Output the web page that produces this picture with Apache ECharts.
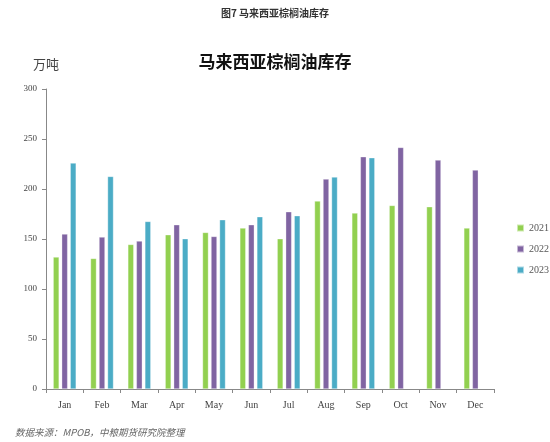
<!DOCTYPE html>
<html>
<head>
<meta charset="utf-8"/>
<script src="https://cdn.jsdelivr.net/npm/echarts@6/dist/echarts.min.js"></script>
<style>
html,body{margin:0;padding:0;background:#fff;}
#main{width:550px;height:442px;}
</style>
</head>
<body>
<div id="main"></div>
<script>
// 月份与各年库存（万吨）
var months = ['Jan','Feb','Mar','Apr','May','Jun','Jul','Aug','Sep','Oct','Nov','Dec'];
var stock2021 = [132, 130.6, 144.6, 154.3, 156.6, 161, 150.3, 188, 176, 183.6, 182.3, 161];
var stock2022 = [155, 152, 148, 164.3, 152.6, 164.3, 177.3, 210, 232.3, 241.6, 229, 219];
var stock2023 = [226, 212.6, 167.6, 150.3, 169.3, 172.3, 173.3, 212, 231.3];
var yearNames = ['2021', '2022', '2023'];

var serif = '"Liberation Serif", "DejaVu Serif", serif';
var cjk = '"Noto Sans CJK SC", sans-serif';

var myChart = echarts.init(document.getElementById('main'));

function bar(name, data, color) {
    return {
        name: name,
        type: 'bar',
        data: data,
        barWidth: 6,
        barGap: '42%',
        itemStyle: {color: color, borderColor: 'rgba(255,255,255,0.55)', borderWidth: 0.6}
    };
}

var option = {
    animation: false,
    title: [
        {
            text: '图7 马来西亚棕榈油库存',
            left: 'center',
            top: 3,
            textStyle: {fontFamily: cjk, fontSize: 10, fontWeight: 'bold', color: '#333'}
        },
        {
            text: '马来西亚棕榈油库存',
            left: 270,
            textAlign: 'center',
            top: 48,
            textStyle: {fontFamily: cjk, fontSize: 17, fontWeight: 'bold', color: '#111'}
        },
        {
            text: '数据来源：MPOB，中粮期货研究院整理',
            left: 10,
            top: 423,
            textStyle: {fontFamily: cjk, fontSize: 9.5, fontWeight: 'normal', fontStyle: 'italic', color: '#666'}
        }
    ],
    legend: {
        orient: 'vertical',
        left: 511,
        top: 218,
        itemWidth: 7,
        itemHeight: 7,
        itemGap: 11,
        icon: 'rect',
        data: yearNames,
        textStyle: {fontFamily: serif, fontSize: 10, color: '#555'}
    },
    grid: {left: 46, right: 56, top: 89, bottom: 53},
    xAxis: {
        type: 'category',
        data: months,
        axisLine: {lineStyle: {color: '#888', width: 1}},
        axisTick: {show: true, length: 4, lineStyle: {color: '#888'}},
        axisLabel: {fontFamily: serif, fontSize: 10, color: '#444', margin: 11}
    },
    yAxis: {
        type: 'value',
        min: 0,
        max: 300,
        interval: 50,
        name: '万吨',
        nameLocation: 'end',
        nameGap: 18,
        nameTextStyle: {fontFamily: cjk, fontSize: 13, color: '#444', align: 'center'},
        axisLine: {show: true, lineStyle: {color: '#888', width: 1}},
        axisTick: {show: true, length: 4, lineStyle: {color: '#888'}},
        splitLine: {show: false},
        axisLabel: {fontFamily: serif, fontSize: 9, color: '#444', margin: 9}
    },
    series: [
        bar(yearNames[0], stock2021, '#92D050'),
        bar(yearNames[1], stock2022, '#8064A2'),
        bar(yearNames[2], stock2023, '#4BACC6')
    ]
};

myChart.setOption(option);
</script>
</body>
</html>
